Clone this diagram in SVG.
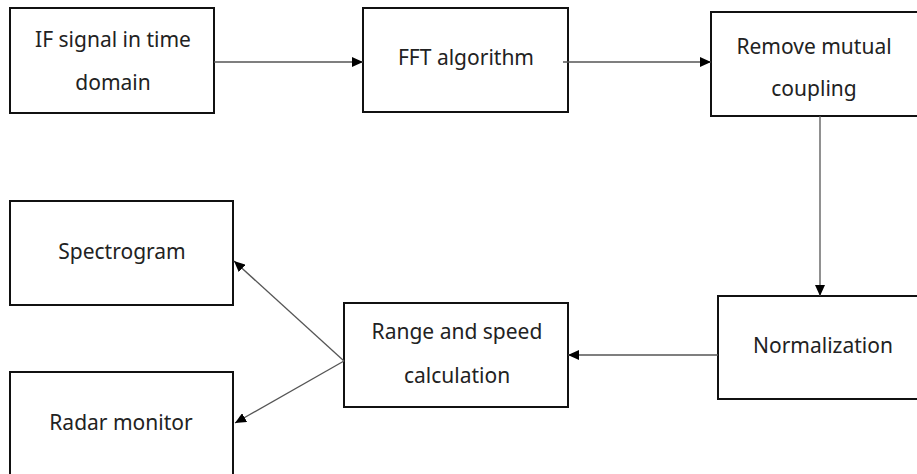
<svg xmlns="http://www.w3.org/2000/svg" width="917" height="474" viewBox="0 0 917 474">
<style>
.box{fill:#fff;stroke:#111;stroke-width:2}
.lbl{font-family:"Noto Sans","Open Sans",sans-serif;font-size:21px;fill:#222;text-anchor:middle}
.conn{stroke:#555;stroke-width:1.3;fill:none;marker-end:url(#ah)}
</style>
<defs>
<marker id="ah" markerUnits="userSpaceOnUse" markerWidth="12" markerHeight="10" refX="11" refY="5" orient="auto">
<path d="M0,0 L11,5 L0,10 Z" fill="#000"/>
</marker>
</defs>
<rect width="917" height="474" fill="#fff"/>
<g id="n1"><rect class="box" x="10" y="8" width="204" height="105"/><text class="lbl" x="113" y="47">IF signal in time</text><text class="lbl" x="113" y="90">domain</text></g>
<g id="n2"><rect class="box" x="363" y="8" width="205" height="104"/><text class="lbl" x="466" y="65">FFT algorithm</text></g>
<g id="n3"><rect class="box" x="711" y="12" width="215" height="104"/><text class="lbl" x="814" y="54">Remove mutual</text><text class="lbl" x="814" y="96">coupling</text></g>
<g id="n4"><rect class="box" x="718" y="296" width="210" height="103"/><text class="lbl" x="823" y="353">Normalization</text></g>
<g id="n5"><rect class="box" x="344" y="303" width="224" height="104"/><text class="lbl" x="457" y="339">Range and speed</text><text class="lbl" x="457" y="383">calculation</text></g>
<g id="n6"><rect class="box" x="10" y="201" width="223" height="104"/><text class="lbl" x="122" y="259">Spectrogram</text></g>
<g id="n7"><rect class="box" x="10" y="372" width="223" height="110"/><text class="lbl" x="121" y="430">Radar monitor</text></g>
<g id="connectors">
<line class="conn" x1="214" y1="62" x2="363" y2="62"/>
<line class="conn" x1="563" y1="62" x2="711" y2="62"/>
<line class="conn" x1="820" y1="116" x2="820" y2="296"/>
<line class="conn" x1="718" y1="355" x2="568" y2="355"/>
<line class="conn" x1="344" y1="361" x2="234" y2="261"/>
<line class="conn" x1="344" y1="361" x2="235" y2="423"/>
</g>
</svg>
